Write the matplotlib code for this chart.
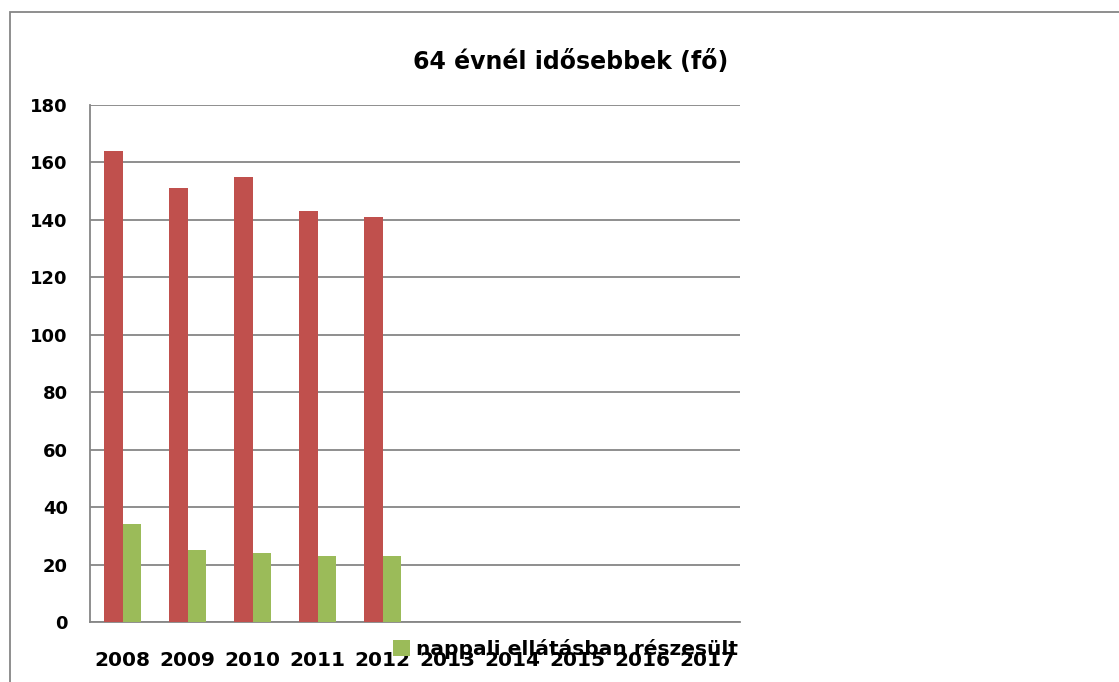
import numpy as np
import matplotlib.pyplot as plt
from matplotlib.patches import Rectangle

years = ['2008', '2009', '2010', '2011', '2012', '2013', '2014', '2015', '2016', '2017']
total = [164, 151, 155, 143, 141, np.nan, np.nan, np.nan, np.nan, np.nan]
day_care = [34, 25, 24, 23, 23, np.nan, np.nan, np.nan, np.nan, np.nan]
title = '64 évnél idősebbek (fő)'
day_label = 'nappali ellátásban részesült'

W, H = 1119, 682
fig = plt.figure(figsize=(W / 100, H / 100), dpi=100)
ax = fig.add_axes([90 / W, 60 / H, 650 / W, 517 / H])

x = np.arange(len(years))
bw = 0.29
ax.bar(x + 0.5 - bw / 2, total, bw, color='#C0504D', zorder=3)
ax.bar(x + 0.5 + bw / 2, day_care, bw, color='#9BBB59', zorder=3, label=day_label)

ax.set_xlim(0, len(years))
ax.set_ylim(0, 180)
ax.set_yticks(range(0, 181, 20))
ax.set_xticks(x + 0.5)
ax.set_xticklabels(years)
ax.yaxis.grid(True, color='#868686', linewidth=1.3, zorder=0)
ax.set_axisbelow(True)
for s in ['top', 'right']:
    ax.spines[s].set_visible(False)
for s in ['left', 'bottom']:
    ax.spines[s].set_color('#868686')
    ax.spines[s].set_linewidth(1.3)
ax.tick_params(length=0)
ax.tick_params(axis='y', pad=16)
ax.tick_params(axis='x', pad=21)
for lab in ax.get_xticklabels():
    lab.set_fontsize(14.5)
    lab.set_fontweight('bold')
for lab in ax.get_yticklabels():
    lab.set_fontsize(13)
    lab.set_fontweight('bold')

fig.text(728 / W, 1 - 62 / H, title, ha='right', va='center',
         fontsize=17, fontweight='bold')

fig.legend(loc='center left', bbox_to_anchor=(393 / W, 1 - 649 / H),
           frameon=False, handlelength=0.85, handleheight=0.85,
           handletextpad=0.3, borderpad=0, borderaxespad=0,
           prop={'size': 14.5, 'weight': 'bold'})

# outer chart frame, cut at right and bottom
fig.patches.append(Rectangle((10 / W, -0.1), 1.2, 1 - 12 / H + 0.1,
                             transform=fig.transFigure, fill=False,
                             edgecolor='#868686', linewidth=1.3))

fig.savefig('out.png', dpi=100)
